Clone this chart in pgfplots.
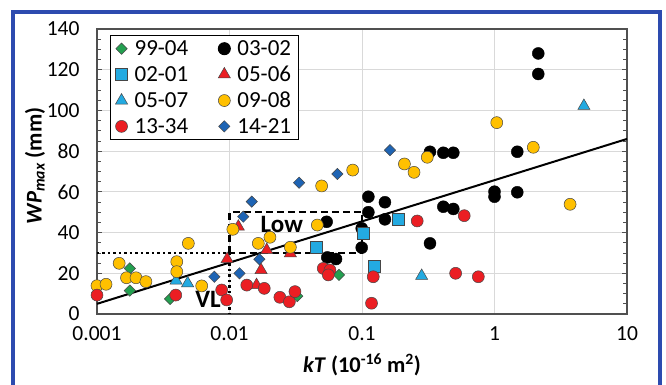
\documentclass[border=0pt]{standalone}
\usepackage{pgfplots}
\pgfplotsset{compat=1.18}
\usepackage{fontspec}
\setmainfont{Carlito}
\definecolor{frameblue}{RGB}{45,75,175}
\definecolor{gridgray}{RGB}{217,217,217}
\definecolor{axisgray}{RGB}{80,80,80}
\definecolor{edgegray}{RGB}{70,70,70}
\definecolor{cgreen}{RGB}{35,160,80}
\definecolor{clblue}{RGB}{35,170,225}
\definecolor{cred}{RGB}{235,30,35}
\definecolor{cyellow}{RGB}{255,192,0}
\definecolor{cdblue}{RGB}{30,100,180}
\begin{document}
\begin{tikzpicture}
\useasboundingbox (0pt,0pt) rectangle (666pt,384pt);
\fill[white] (0pt,0pt) rectangle (666pt,384pt);
\draw[frameblue, line width=4pt] (12.5pt,-20pt) -- (12.5pt,372pt) -- (660pt,372pt) -- (660pt,-20pt);
\begin{axis}[
  at={(97pt,70pt)}, anchor=south west, scale only axis,
  width=530pt, height=285pt,
  xmode=log, xmin=0.001, xmax=10, ymin=0, ymax=140,
  xtick={0.001,0.01,0.1,1,10}, xticklabels={0.001,0.01,0.1,1,10},
  xminorticks=false,
  ytick={0,20,...,140}, minor y tick num=3,
  xtick style={draw=none},
  ytick style={draw=axisgray, line width=0.8pt},
  minor y tick style={draw=axisgray, line width=0.8pt},
  tick align=inside, major tick length=5pt, minor tick length=4pt,
  grid=major, major grid style={draw=gridgray, line width=0.9pt},
  axis line style={draw=axisgray, line width=1.3pt},
  /pgf/number format/assume math mode=true,
  tick label style={font=\fontsize{21.5}{24}\selectfont},
  xticklabel style={yshift=-9pt},
  yticklabel style={xshift=-14pt},
  xlabel={\textbf{\textit{kT}} \textbf{(10\textsuperscript{-16} m\textsuperscript{2})}},
  xlabel style={font=\fontsize{22.5}{26}\selectfont, at={(axis description cs:0.5,-0.179)}, anchor=center},
  ylabel={\textbf{\textit{WP\textsubscript{max}}} \textbf{(mm)}},
  ylabel style={font=\fontsize{22.5}{26}\selectfont, at={(axis description cs:-0.117,0.52)}, anchor=center, rotate=0},
  legend columns=2,
  legend cell align=left,
  legend style={at={(0.0245,0.979)}, anchor=north west, draw=black, line width=1pt,
    fill=white, font=\fontsize{23}{26}\selectfont, inner xsep=5pt, inner ysep=3pt,
    /tikz/every odd column/.append style={column sep=5pt},
    /tikz/every even column/.append style={column sep=28pt},
    row sep=5pt},
]
% fit line and boxes
\addplot[black, line width=2pt, forget plot] coordinates {(0.001,5) (10,86)};
\addplot[black, line width=2.5pt, dash pattern=on 7pt off 4pt, forget plot] coordinates {(0.01,30) (0.01,50) (0.1,50) (0.1,30) (0.01,30)};
\addplot[black, line width=2.5pt, dash pattern=on 2.5pt off 3pt, forget plot] coordinates {(0.001,30) (0.01,30) (0.01,0)};
\node[font=\bfseries\fontsize{25}{25}\selectfont] at (axis cs:0.0248,44) {Low};
\node[font=\bfseries\fontsize{25}{25}\selectfont] at (axis cs:0.0069,7) {VL};
% 99-04
\addplot[only marks, mark=square*, mark size=4pt, mark options={rotate=45, fill=cgreen, draw=edgegray, line width=0.5pt}] coordinates {
(0.00177,22.4) (0.00177,11.5) (0.00356,7.4) (0.0325,8.8) (0.067,19.2)};
\addlegendentry{99-04}
% 03-02
\addplot[only marks, mark=*, mark size=6pt, mark options={fill=black, draw=black}] coordinates {
(0.0541,45.3) (0.0547,27.8) (0.0637,27.0) (0.0995,42.1) (0.0995,32.6) (0.1117,57.6) (0.1117,50.0)
(0.149,54.9) (0.149,46.5) (0.326,34.7) (0.411,52.7) (0.489,51.6) (0.326,79.7) (0.411,79.2) (0.489,79.2)
(1.0,60.1) (1.0,57.6) (1.486,59.8) (1.486,79.7) (2.14,128.0) (2.14,117.9)};
\addlegendentry{03-02}
% 02-01
\addplot[only marks, mark=square*, mark size=6pt, mark options={fill=clblue, draw=edgegray, line width=0.5pt}] coordinates {
(0.045,32.8) (0.102,39.6) (0.188,46.7) (0.124,23.7)};
\addlegendentry{02-01}
% 05-06
\addplot[only marks, mark=triangle*, mark size=7pt, mark options={fill=cred, draw=edgegray, line width=0.5pt}] coordinates {
(0.0096,27.0) (0.01166,42.9) (0.0191,31.4) (0.0173,21.6) (0.0160,14.2) (0.0288,29.8)};
\addlegendentry{05-06}
% 05-07
\addplot[only marks, mark=triangle*, mark size=7pt, mark options={fill=clblue, draw=edgegray, line width=0.5pt}] coordinates {
(0.00395,16.4) (0.00483,15.1) (0.282,18.7) (4.73,102.2)};
\addlegendentry{05-07}
% 09-08
\addplot[only marks, mark=*, mark size=6pt, mark options={fill=cyellow, draw=edgegray, line width=0.5pt}] coordinates {
(0.001,13.9) (0.00117,14.6) (0.00147,24.9) (0.00167,17.8) (0.00197,17.8) (0.00234,15.9)
(0.0040,25.7) (0.0040,20.8) (0.00489,34.7) (0.00617,13.8) (0.0106,41.6) (0.0165,34.7)
(0.0202,37.7) (0.0288,32.8) (0.046,43.7) (0.0496,62.9) (0.0851,70.7) (0.209,73.7)
(0.247,69.6) (0.311,77.0) (1.04,94.0) (1.963,81.9) (3.72,53.9)};
\addlegendentry{09-08}
% 13-34
\addplot[only marks, mark=*, mark size=6pt, mark options={fill=cred, draw=edgegray, line width=0.5pt}] coordinates {
(0.001,9.3) (0.00393,9.3) (0.00873,11.8) (0.00952,6.9) (0.0135,14.2) (0.0183,12.6)
(0.024,8.2) (0.0283,6.0) (0.0312,11.0) (0.051,22.4) (0.0573,21.6) (0.0557,19.2)
(0.1216,18.3) (0.118,5.3) (0.261,45.7) (0.591,48.3) (0.509,20.0) (0.755,18.3)};
\addlegendentry{13-34}
% 14-21
\addplot[only marks, mark=square*, mark size=4pt, mark options={rotate=45, fill=cdblue, draw=edgegray, line width=0.5pt}] coordinates {
(0.00768,18.3) (0.0119,20.0) (0.0127,47.8) (0.01472,55.2) (0.0168,26.9) (0.0335,64.5)
(0.0652,68.8) (0.1626,80.5)};
\addlegendentry{14-21}
\end{axis}
\end{tikzpicture}
\end{document}
